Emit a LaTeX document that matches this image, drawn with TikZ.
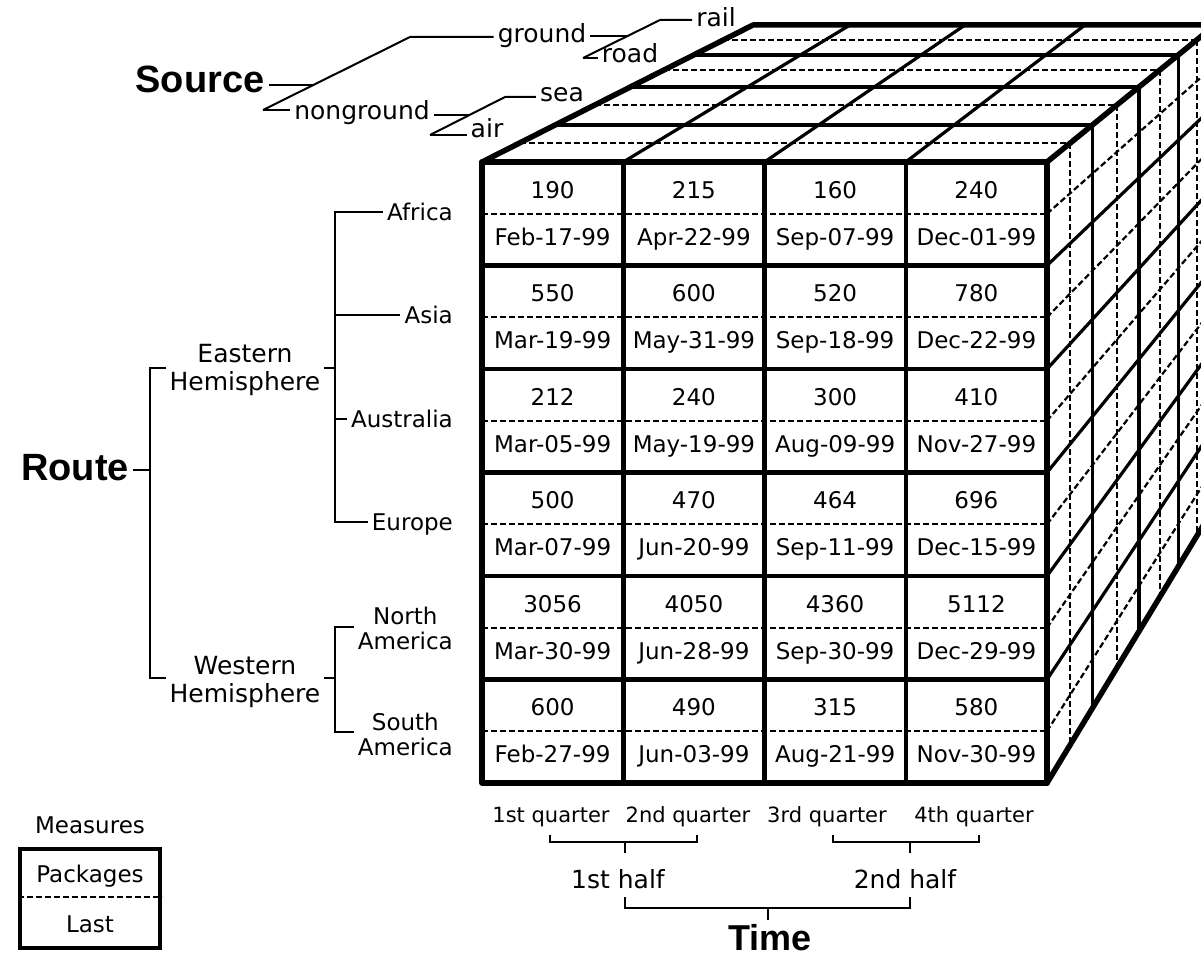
\documentclass[tikz,border=0pt]{standalone}
\usepackage{fontspec}
\setmainfont{DejaVu Sans}
\newfontfamily\headfont{Liberation Sans}
\usetikzlibrary{calc}
\begin{document}
\begin{tikzpicture}[x=1pt,y=-1pt,
  outline/.style={line width=5.5pt,line cap=round,line join=round},
  gridline/.style={line width=4.5pt},
  faceline/.style={line width=3.2pt},
  dashline/.style={line width=2.2pt,dash pattern=on 6pt off 3pt},
  tree/.style={line width=2pt},
  cell/.style={font=\fontsize{23}{26}\selectfont,anchor=base,inner sep=0pt},
  lab/.style={font=\fontsize{23}{25}\selectfont,inner sep=4pt,anchor=base},
  lab2/.style={font=\fontsize{23}{25}\selectfont,inner sep=4pt,align=center,anchor=east},
  srclab/.style={font=\fontsize{25}{28}\selectfont,inner sep=4pt,anchor=base},
  hemi/.style={font=\fontsize{25}{28}\selectfont,align=center,inner sep=3pt},
  qlab/.style={font=\fontsize{21}{24}\selectfont,anchor=base,inner sep=2pt},
  hlab/.style={font=\fontsize{25}{28}\selectfont,anchor=base,inner sep=2pt},
  big/.style={font=\headfont\bfseries\fontsize{38}{40}\selectfont,anchor=base,inner sep=4pt},
]
\useasboundingbox (0,0) rectangle (1201,960);
\clip (0,0) rectangle (1201,960);

% ---------- cube corners ----------
\coordinate (FTL) at (482,162);
\coordinate (FTR) at (1047,162);
\coordinate (FBR) at (1047,783);
\coordinate (FBL) at (482,783);
\coordinate (BTL) at (753,25);
\coordinate (BTR) at (1215,25);
\coordinate (BBR) at (1215,506);

% ---------- top and right faces: depth layers ----------
\foreach \f/\sty in {0.139/dashline,0.270/faceline,0.416/dashline,0.547/faceline,0.672/dashline,0.781/faceline,0.891/dashline}{
  \draw[\sty] ($(FTL)!\f!(BTL)$) -- ($(FTR)!\f!(BTR)$);
  \draw[\sty] ($(FTR)!\f!(BTR)$) -- ($(FBR)!\f!(BBR)$);
}
% top face column diagonals
\foreach \c/\bx in {1/850,2/965,3/1085}
  \draw[faceline] ($(FTL)!{\c/4}!(FTR)$) -- (\bx,25);
% right face row diagonals
\foreach \r in {2,4,6,8,10}
  \draw[faceline] ($(FTR)!{\r/12}!(FBR)$) -- ($(BTR)!{\r/12}!(BBR)$);
\foreach \r in {1,3,5,7,9,11}
  \draw[dashline] ($(FTR)!{\r/12}!(FBR)$) -- ($(BTR)!{\r/12}!(BBR)$);
% outer edges
\draw[outline] (FTL) -- (BTL) -- (BTR);
\draw[outline] (FTR) -- (BTR);
\draw[outline] (FBR) -- (BBR);

% ---------- front face ----------
\foreach \r in {0,...,5}
  \draw[dashline] (482,{213.75+103.5*\r}) -- (1047,{213.75+103.5*\r});
\foreach \r in {1,...,5}
  \draw[gridline] (482,{162+103.5*\r}) -- (1047,{162+103.5*\r});
\foreach \c in {1,2,3}
  \draw[gridline] ({482+141.25*\c},162) -- ({482+141.25*\c},783);
\draw[outline] (FTL) rectangle (FBR);

\foreach [count=\r from 0] \vA/\dA/\vB/\dB/\vC/\dC/\vD/\dD in {
  190/Feb-17-99/215/Apr-22-99/160/Sep-07-99/240/Dec-01-99,
  550/Mar-19-99/600/May-31-99/520/Sep-18-99/780/Dec-22-99,
  212/Mar-05-99/240/May-19-99/300/Aug-09-99/410/Nov-27-99,
  500/Mar-07-99/470/Jun-20-99/464/Sep-11-99/696/Dec-15-99,
  3056/Mar-30-99/4050/Jun-28-99/4360/Sep-30-99/5112/Dec-29-99,
  600/Feb-27-99/490/Jun-03-99/315/Aug-21-99/580/Nov-30-99}{
  \node[cell] (va\r) at (552.6,{198+103.5*\r}) {\vA};
  \node[cell] (da\r) at (552.6,{245+103.5*\r}) {\dA};
  \node[cell] (vb\r) at (693.9,{198+103.5*\r}) {\vB};
  \node[cell] (db\r) at (693.9,{245+103.5*\r}) {\dB};
  \node[cell] (vc\r) at (835.1,{198+103.5*\r}) {\vC};
  \node[cell] (dc\r) at (835.1,{245+103.5*\r}) {\dC};
  \node[cell] (vd\r) at (976.4,{198+103.5*\r}) {\vD};
  \node[cell] (dd\r) at (976.4,{245+103.5*\r}) {\dD};
}

% ---------- Source hierarchy ----------
\node[big] (source) at (200,93) {Source};
\node[srclab] (nonground) at (362,120) {nonground};
\node[srclab] (ground) at (542,43) {ground};
\node[srclab] (road) at (630,63) {road};
\node[srclab] (rail) at (716,27) {rail};
\node[srclab] (sea) at (562,102) {sea};
\node[srclab] (air) at (487,138) {air};

\coordinate (s1) at (313,85);
\coordinate (s2) at (410,37);
\coordinate (s3) at (263,110);
\draw[tree] (source.east |- s1) -- (s1);
\draw[tree] (s3) -- (s2) -- (ground.west |- s2);
\draw[tree] (s3) -- (nonground.west |- s3);

\coordinate (g1) at (627,36);
\coordinate (g2) at (660,20);
\coordinate (g3) at (583,58);
\draw[tree] (ground.east |- g1) -- (g1);
\draw[tree] (g3) -- (g2) -- (rail.west |- g2);
\draw[tree] (g3) -- (road.west |- g3);

\coordinate (n1) at (470,115);
\coordinate (n2) at (505,97);
\coordinate (n3) at (430,135);
\draw[tree] (nonground.east |- n1) -- (n1);
\draw[tree] (n3) -- (n2) -- (sea.west |- n2);
\draw[tree] (n3) -- (air.west |- n3);

% ---------- Route hierarchy ----------
\node[big] (route) at (75,480) {Route};
\node[hemi] (eastern) at (245,370) {Eastern\\Hemisphere};
\node[hemi] (western) at (245,682) {Western\\Hemisphere};
\node[lab,anchor=base east] (africa) at (457,220) {Africa};
\node[lab,anchor=base east] (asia) at (457,323) {Asia};
\node[lab,anchor=base east] (australia) at (457,427) {Australia};
\node[lab,anchor=base east] (europe) at (457,530) {Europe};
\node[lab2] (namerica) at (457,628) {North\\America};
\node[lab2] (samerica) at (457,734) {South\\America};

\coordinate (rj) at (150,470);
\coordinate (rt) at (150,368);
\coordinate (rb) at (150,678);
\draw[tree] (route.east |- rj) -- (rj);
\draw[tree] (eastern.west |- rt) -- (rt) -- (rb) -- (western.west |- rb);

\coordinate (ej) at (335,368);
\coordinate (eAf) at (335,212);
\coordinate (eAs) at (335,315);
\coordinate (eAu) at (335,419);
\coordinate (eEu) at (335,522);
\draw[tree] (eastern.east |- ej) -- (ej);
\draw[tree] (africa.west |- eAf) -- (eAf) -- (eEu) -- (europe.west |- eEu);
\draw[tree] (eAs) -- (asia.west |- eAs);
\draw[tree] (eAu) -- (australia.west |- eAu);

\coordinate (wj) at (335,678);
\coordinate (wNa) at (335,627);
\coordinate (wSa) at (335,732);
\draw[tree] (western.east |- wj) -- (wj);
\draw[tree] (namerica.west |- wNa) -- (wNa) -- (wSa) -- (samerica.west |- wSa);

% ---------- Measures legend ----------
\node[lab] (measures) at (90,833) {Measures};
\node[draw,line width=4pt,minimum width=140pt,minimum height=99pt,inner sep=0pt] (mbox) at (90,898.5) {};
\node[lab] (packages) at (90,882) {Packages};
\node[lab] (last) at (90,932) {Last};
\coordinate (mdash) at (90,897);
\draw[dashline] (mbox.west |- mdash) -- (mbox.east |- mdash);

% ---------- Time hierarchy ----------
\node[qlab] (q1) at (551,822) {1st quarter};
\node[qlab] (q2) at (688,822) {2nd quarter};
\node[qlab] (q3) at (827,822) {3rd quarter};
\node[qlab] (q4) at (974,822) {4th quarter};
\node[hlab] (h1) at (618,888) {1st half};
\node[hlab] (h2) at (905,888) {2nd half};
\node[big,inner sep=0pt,font=\headfont\bfseries\fontsize{36}{38}\selectfont] (time) at (770,950) {Time};

\coordinate (b1l) at (550,842);
\coordinate (b1r) at (697,842);
\coordinate (b1c) at (625,842);
\coordinate (b2l) at (833,842);
\coordinate (b2r) at (979,842);
\coordinate (b2c) at (910,842);
\draw[tree] ($(b1l)+(0,-7)$) -- (b1l) -- (b1r) -- ($(b1r)+(0,-7)$);
\draw[tree] (b1c) -- ++(0,11);
\draw[tree] ($(b2l)+(0,-7)$) -- (b2l) -- (b2r) -- ($(b2r)+(0,-7)$);
\draw[tree] (b2c) -- ++(0,11);

\coordinate (hb1) at (625,908);
\coordinate (hb2) at (910,908);
\coordinate (hbc) at (768,908);
\draw[tree] ($(hb1)+(0,-11)$) -- (hb1) -- (hb2) -- ($(hb2)+(0,-11)$);
\draw[tree] (hbc) -- ++(0,12);
\end{tikzpicture}
\end{document}
